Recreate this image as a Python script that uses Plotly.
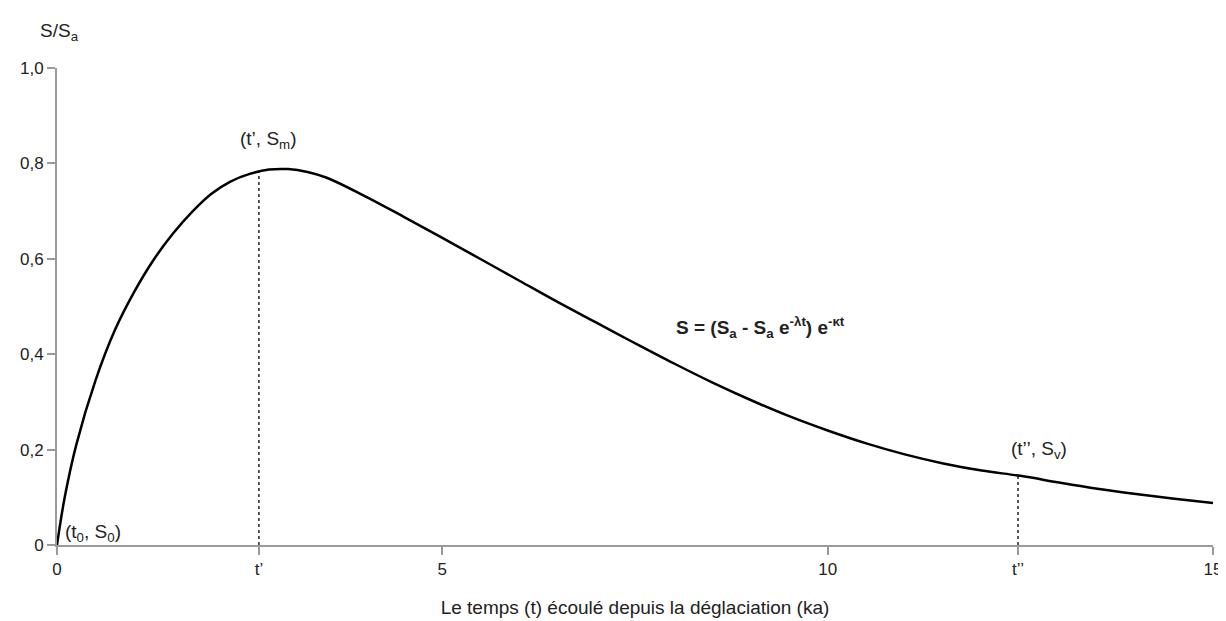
import plotly.graph_objects as go

# data
t_vals = [0, 0.1, 0.25, 0.5, 0.75, 1.0, 1.25, 1.5, 1.75, 2.0, 2.25, 2.5, 2.75, 3.0, 3.25, 3.5,
          4.0, 4.5, 5.0, 5.5, 6.0, 6.5, 7.0, 7.5, 8.0, 8.5, 9.0, 9.5, 10.0, 10.5, 11.0, 11.5,
          12.0, 12.5, 13.0, 13.5, 14.0, 14.5, 15.0]
s_vals = [0, 0.10, 0.21, 0.345, 0.45, 0.53, 0.597, 0.652, 0.698, 0.736, 0.762, 0.778, 0.787, 0.788,
          0.782, 0.770, 0.731, 0.688, 0.644, 0.599, 0.554, 0.509, 0.466, 0.423, 0.381, 0.341, 0.304,
          0.27, 0.24, 0.213, 0.19, 0.171, 0.156, 0.145, 0.131, 0.118, 0.107, 0.097, 0.088]

t_prime = 2.62
s_max = 0.784
t_second = 12.47
s_v = 0.145

x_tickvals = [0, t_prime, 5, 10, t_second, 15]
x_ticktext = ["0", "t’", "5", "10", "t’’", "15"]
y_tickvals = [0, 0.2, 0.4, 0.6, 0.8, 1.0]
y_ticktext = ["0", "0,2", "0,4", "0,6", "0,8", "1,0"]

FONT = "Liberation Sans, Arial, sans-serif"
TXT = "#222222"
AX = "#9a9a9a"

fig = go.Figure()
fig.add_trace(go.Scatter(x=[t_prime, t_prime], y=[0, s_max], mode="lines",
                         line=dict(color="#222222", width=1.5, dash="dot"), hoverinfo="skip"))
fig.add_trace(go.Scatter(x=[t_second, t_second], y=[0, s_v], mode="lines",
                         line=dict(color="#222222", width=1.5, dash="dot"), hoverinfo="skip"))
fig.add_trace(go.Scatter(x=t_vals, y=s_vals, mode="lines",
                         line=dict(color="black", width=2.5, shape="spline", smoothing=1.0)))

ann = dict(showarrow=False, font=dict(family=FONT, size=19, color=TXT))
fig.add_annotation(x=2.74, y=0.849, text="(t’, S<sub>m</sub>)", xanchor="center", yanchor="middle", **ann)
fig.add_annotation(x=12.74, y=0.199, text="(t’’, S<sub>v</sub>)", xanchor="center", yanchor="middle", **ann)
fig.add_annotation(x=0.08, y=0.025, text="(t<sub>0</sub>, S<sub>0</sub>)", xanchor="left", yanchor="middle", **ann)
fig.add_annotation(x=9.13, y=0.455, text="<b>S = (S<sub>a</sub> - S<sub>a</sub> e<sup>-λt</sup>) e<sup>-κt</sup></b>",
                   xanchor="center", yanchor="middle", **ann)
fig.add_annotation(xref="paper", yref="paper", x=0.002, y=1.075, text="S/S<sub>a</sub>",
                   xanchor="center", yanchor="middle", **ann)

fig.update_layout(
    width=1226, height=621,
    margin=dict(l=44, r=14, t=60, b=84),
    paper_bgcolor="white", plot_bgcolor="white",
    showlegend=False,
    font=dict(family=FONT, size=17, color=TXT),
    xaxis=dict(range=[0, 15], showgrid=False, zeroline=False, showline=True, linecolor=AX, linewidth=2,
               ticks="outside", ticklen=8, tickwidth=1.5, tickcolor=AX,
               tickvals=x_tickvals, ticktext=x_ticktext, tickfont=dict(size=17, color=TXT),
               title=dict(text="Le temps (t) écoulé depuis la déglaciation (ka)",
                          font=dict(size=19, color=TXT), standoff=22)),
    yaxis=dict(range=[0, 1.0], showgrid=False, zeroline=False, showline=True, linecolor=AX, linewidth=2,
               ticks="outside", ticklen=8, tickwidth=1.5, tickcolor=AX,
               tickvals=y_tickvals, ticktext=y_ticktext, tickfont=dict(size=17, color=TXT)),
)

fig.write_html("out.html")
